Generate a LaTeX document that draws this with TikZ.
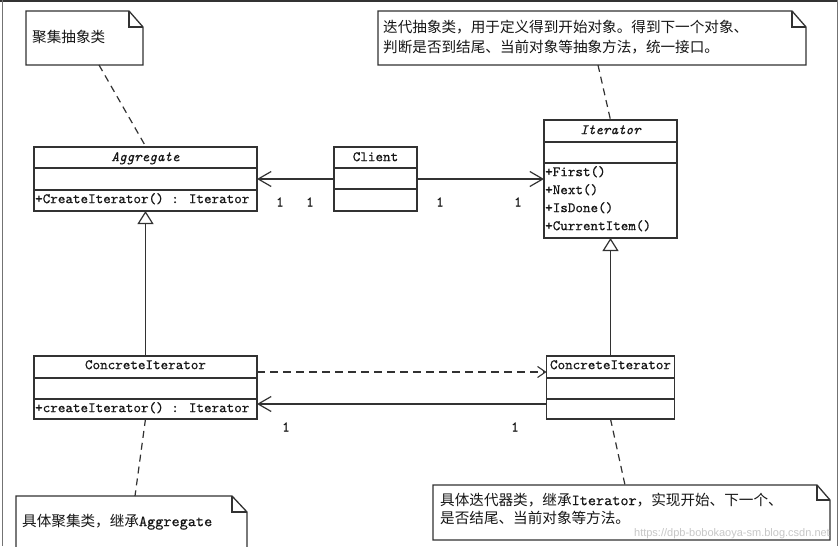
\documentclass[tikz,border=0pt]{standalone}
\usepackage{fontspec}
\newfontfamily\cjk{Noto Sans CJK SC}
\newfontfamily\wmfont{Liberation Sans}
\newfontfamily\cmono{lmmono10-regular.otf}[FakeBold=0.5, ItalicFont=lmmono10-italic.otf, ItalicFeatures={FakeBold=0.5}]
\usetikzlibrary{arrows.meta,calc}
\definecolor{linec}{RGB}{50,50,50}
\definecolor{txt}{RGB}{22,22,22}
\newcommand\mylat[1]{{\fontsize{15.5}{17}\selectfont\cmono #1}}
\begin{document}
\begin{tikzpicture}[x=1pt,y=-1pt,
  cls/.style={draw=linec, line width=1.3pt, inner sep=0pt, outer sep=0pt},
  notebox/.style={draw=none, inner sep=0pt, outer sep=0pt},
  ln/.style={draw=linec, line width=1.3pt},
  mono/.style={font=\fontsize{14.4}{16}\selectfont\cmono, text=txt, inner sep=0pt},
  cjkt/.style={font=\fontsize{14.6}{17}\selectfont\cjk, text=txt, inner sep=0pt, anchor=mid west},
  mult/.style={font=\fontsize{14.5}{16}\selectfont\cmono, text=txt, inner sep=0pt},
  notelink/.style={ln, line width=1.2pt, dash pattern=on 7pt off 5pt},
  vhead/.style={-{Straight Barb[length=13pt,width=15pt,line width=1.2pt]}},
  inherit/.style={-{Triangle[open,length=13pt,width=16pt,line width=1.2pt]}}
]
\useasboundingbox (0,0) rectangle (840,546);
\fill[white] (0,0) rectangle (840,546);
% frame
\draw[line width=2.5pt, black!80] (0,1) -- (838,1);
\draw[line width=1.5pt, black!55] (2.5,0) -- (2.5,546);
\draw[line width=1.5pt, black!55] (837.5,0) -- (837.5,546);

% ---------- classes ----------
\node[cls, minimum width=223pt, minimum height=64pt] (agg) at (145.5,179) {};
\draw[ln] ([yshift=-21pt]agg.north west) -- ([yshift=-21pt]agg.north east);
\draw[ln] ([yshift=-43pt]agg.north west) -- ([yshift=-43pt]agg.north east);
\node[mono, anchor=mid] (aggname) at ($(agg.north)+(0,12)$) {\itshape Aggregate};
\node[mono, anchor=mid west] (aggm) at ($(agg.north west)+(1,54)$) {+CreateIterator() : Iterator};

\node[cls, minimum width=83pt, minimum height=64pt] (client) at (375.5,179) {};
\draw[ln] ([yshift=-21pt]client.north west) -- ([yshift=-21pt]client.north east);
\draw[ln] ([yshift=-42pt]client.north west) -- ([yshift=-42pt]client.north east);
\node[mono, anchor=mid] (clientname) at ($(client.north)+(0,12)$) {Client};

\node[cls, minimum width=133pt, minimum height=118pt] (iter) at (610.5,179) {};
\draw[ln] ([yshift=-22pt]iter.north west) -- ([yshift=-22pt]iter.north east);
\draw[ln] ([yshift=-43pt]iter.north west) -- ([yshift=-43pt]iter.north east);
\node[mono, anchor=mid] (itername) at ($(iter.north)+(0,12)$) {\itshape Iterator};
\node[mono, anchor=mid west] (im1) at ($(iter.north west)+(1,54)$) {+First()};
\node[mono, anchor=mid west] (im2) at ($(iter.north west)+(1,72)$) {+Next()};
\node[mono, anchor=mid west] (im3) at ($(iter.north west)+(1,90)$) {+IsDone()};
\node[mono, anchor=mid west] (im4) at ($(iter.north west)+(1,108)$) {+CurrentItem()};

\node[cls, minimum width=223pt, minimum height=63pt] (cil) at (145.5,387.5) {};
\draw[ln] ([yshift=-22pt]cil.north west) -- ([yshift=-22pt]cil.north east);
\draw[ln] ([yshift=-43pt]cil.north west) -- ([yshift=-43pt]cil.north east);
\node[mono, anchor=mid] (cilname) at ($(cil.north)+(0,11)$) {ConcreteIterator};
\node[mono, anchor=mid west] (cilm) at ($(cil.north west)+(1,54)$) {+createIterator() : Iterator};

\node[cls, minimum width=128pt, minimum height=63pt] (cir) at (610.5,387.5) {};
\draw[ln] ([yshift=-22pt]cir.north west) -- ([yshift=-22pt]cir.north east);
\draw[ln] ([yshift=-43pt]cir.north west) -- ([yshift=-43pt]cir.north east);
\node[mono, anchor=mid] (cirname) at ($(cir.north)+(0,11)$) {ConcreteIterator};

% ---------- connectors ----------
\draw[ln, vhead] (client.west) -- (agg.east);
\draw[ln, vhead] (client.east) -- (iter.west);
\draw[ln, inherit] (cil.north) -- (agg.south);
\draw[ln, inherit] (cir.north) -- (iter.south);
\draw[ln, line width=1.2pt, dash pattern=on 8pt off 5pt, -{Straight Barb[length=8pt,width=11pt,line width=1.1pt]}]
  ($(cil.north east)+(0,16)$) -- ($(cir.north west)+(0,16)$);
\draw[ln, vhead] ($(cir.north west)+(0,48)$) -- ($(cil.north east)+(0,48)$);

\node[mult] (m1) at (280,202) {1};
\node[mult] (m2) at (310,202) {1};
\node[mult] (m3) at (440,202) {1};
\node[mult] (m4) at (518,202) {1};
\node[mult] (m5) at (286,427) {1};
\node[mult] (m6) at (515,427) {1};

% ---------- notes ----------
\node[notebox, minimum width=117pt, minimum height=54pt] (n1) at (84.5,38) {};
\draw[ln] (n1.south west) -- (n1.north west) -- ([xshift=-14pt]n1.north east) -- ([yshift=-16pt]n1.north east) -- (n1.south east) -- cycle;
\draw[ln] ([xshift=-14pt]n1.north east) |- ([yshift=-16pt]n1.north east);
\node[cjkt] (n1t) at ($(n1.north west)+(6,29)$) {聚集抽象类};

\node[notebox, minimum width=428pt, minimum height=54pt] (n2) at (592,38) {};
\draw[ln] (n2.south west) -- (n2.north west) -- ([xshift=-14pt]n2.north east) -- ([yshift=-16pt]n2.north east) -- (n2.south east) -- cycle;
\draw[ln] ([xshift=-14pt]n2.north east) |- ([yshift=-16pt]n2.north east);
\node[cjkt] (n2t1) at ($(n2.north west)+(5,19)$) {迭代抽象类，用于定义得到开始对象。得到下一个对象、};
\node[cjkt] (n2t2) at ($(n2.north west)+(5,39)$) {判断是否到结尾、当前对象等抽象方法，统一接口。};

\node[notebox, minimum width=231pt, minimum height=64pt] (n3) at (131.5,528) {};
\draw[ln] (n3.south west) -- (n3.north west) -- ([xshift=-15pt]n3.north east) -- ([yshift=-16pt]n3.north east) -- (n3.south east);
\draw[ln] ([xshift=-15pt]n3.north east) |- ([yshift=-16pt]n3.north east);
\node[cjkt] (n3t) at ($(n3.north west)+(6,28)$) {具体聚集类，继承\mylat{Aggregate}};

\node[notebox, minimum width=397pt, minimum height=55pt] (n4) at (631.5,512.5) {};
\draw[ln] (n4.south west) -- (n4.north west) -- ([xshift=-13pt]n4.north east) -- ([yshift=-15pt]n4.north east) -- (n4.south east) -- cycle;
\draw[ln] ([xshift=-13pt]n4.north east) |- ([yshift=-15pt]n4.north east);
\node[cjkt] (n4t1) at ($(n4.north west)+(7,18)$) {具体迭代器类，继承\mylat{Iterator}，实现开始、下一个、};
\node[cjkt] (n4t2) at ($(n4.north west)+(7,36)$) {是否结尾、当前对象等方法。};

\draw[notelink] ([xshift=73pt]n1.south west) -- ([xshift=0.5pt]agg.north);
\draw[notelink] ([xshift=220pt]n2.south west) -- (iter.north);
\draw[notelink] (cil.south) -- ([xshift=119pt]n3.north west);
\draw[notelink] (cir.south) -- ([xshift=192pt]n4.north west);

% watermark
\node[font=\fontsize{11}{13}\selectfont\wmfont, text=black!22, inner sep=0pt, anchor=east] (wm) at (830,534) {https://dpb-bobokaoya-sm.blog.csdn.net};
\end{tikzpicture}
\end{document}
